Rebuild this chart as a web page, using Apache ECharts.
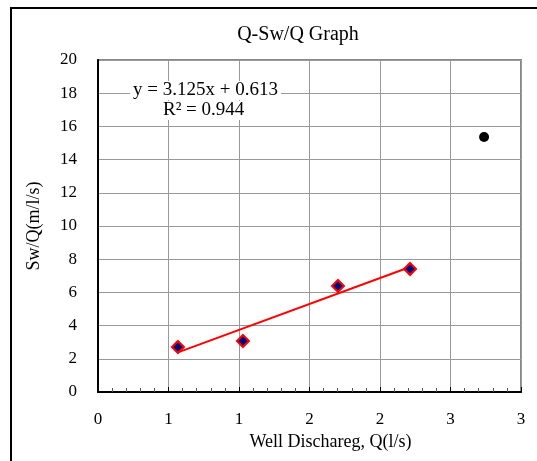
<!DOCTYPE html>
<html>
<head>
<meta charset="utf-8">
<script src="https://cdn.jsdelivr.net/npm/echarts@6/dist/echarts.min.js"></script>
<style>
  html, body { margin: 0; padding: 0; background: #fff; }
  #frame { position: absolute; left: 10px; top: 7px; width: 540px; height: 452px;
           border-left: 2px solid #000; border-top: 2px solid #000; border-bottom: 2px solid #888; }
  #chart { position: absolute; left: 0; top: 0; width: 537px; height: 461px; }
</style>
</head>
<body>
<div id="frame"></div>
<div id="chart"></div>
<script>
// Well test data: discharge Q (l/s) vs. specific drawdown Sw/Q
const dischargeQ = [0.567, 1.028, 1.702, 2.213];
const swOverQ = [2.71, 3.07, 6.39, 7.41];
// Point left out of the fit
const outlierQ = [2.738];
const outlierSw = [15.36];
// Linear fit reported on the chart
const slope = 3.125;
const intercept = 0.613;
const rSquared = 0.944;
// Axis tick labels (rounded to whole numbers)
const xTickLabels = ['0', '1', '1', '2', '2', '3', '3'];
const yTickLabels = ['0', '2', '4', '6', '8', '10', '12', '14', '16', '18', '20'];

const FONT = '"Liberation Serif", "DejaVu Serif", serif';

const fitted = dischargeQ.map((x, i) => [x, swOverQ[i]]);
const outliers = outlierQ.map((x, i) => [x, outlierSw[i]]);
const xMin = Math.min(...dischargeQ), xMax = Math.max(...dischargeQ);
const trend = [[xMin, slope * xMin + intercept], [xMax, slope * xMax + intercept]];

const chart = echarts.init(document.getElementById('chart'), null, { renderer: 'canvas' });
chart.setOption({
  animation: false,
  backgroundColor: 'transparent',
  title: {
    text: 'Q-Sw/Q Graph', left: 293, top: 20, textAlign: 'center',
    textStyle: { fontFamily: FONT, fontSize: 20, fontWeight: 'normal', color: '#000' }
  },
  grid: {
    left: 98, top: 60, right: 16, bottom: 69,
    show: true, borderColor: '#888', borderWidth: 2, backgroundColor: '#fff'
  },
  xAxis: {
    type: 'value', min: 0, max: 3, interval: 0.5,
    name: 'Well Dischareg, Q(l/s)', nameLocation: 'middle', nameGap: 34,
    nameTextStyle: { fontFamily: FONT, fontSize: 18, color: '#000', padding: [0, 0, 0, 42] },
    axisLine: { show: true, onZero: false, lineStyle: { color: '#000', width: 2 } },
    axisTick: { show: true, inside: true, length: 5, lineStyle: { color: '#000' } },
    minorTick: { show: true, splitNumber: 5, length: 4, lineStyle: { color: '#555' } },
    axisLabel: {
      margin: 19, fontFamily: FONT, fontSize: 17, color: '#000',
      formatter: (v) => xTickLabels[Math.round(v / 0.5)]
    },
    splitLine: { show: true, lineStyle: { color: '#999', width: 1 } }
  },
  yAxis: {
    type: 'value', min: 0, max: 20, interval: 2,
    name: 'Sw/Q(m/l/s)', nameLocation: 'middle', nameGap: 55,
    nameTextStyle: { fontFamily: FONT, fontSize: 18, color: '#000' },
    axisLine: { show: true, onZero: false, lineStyle: { color: '#000', width: 2 } },
    axisTick: { show: false },
    axisLabel: {
      margin: 21, fontFamily: FONT, fontSize: 17, color: '#000',
      formatter: (v) => yTickLabels[Math.round(v / 2)]
    },
    splitLine: { show: true, lineStyle: { color: '#999', width: 1 } }
  },
  series: [
    {
      type: 'line', data: trend, showSymbol: false, symbol: 'none',
      lineStyle: { color: '#ff0000', width: 2 }, z: 3
    },
    {
      type: 'scatter', data: fitted, symbol: 'diamond', symbolSize: 12,
      itemStyle: { color: '#000080', borderColor: '#ff0000', borderWidth: 2, opacity: 1 }, z: 4
    },
    {
      type: 'scatter', data: outliers, symbol: 'circle', symbolSize: 10,
      itemStyle: { color: '#000', opacity: 1 }, z: 4
    }
  ],
  graphic: [
    {
      type: 'text', left: 130, top: 81, z: 10,
      style: {
        text: 'y = ' + slope.toFixed(3) + 'x + ' + intercept.toFixed(3),
        font: '19px ' + FONT, fill: '#000', backgroundColor: '#fff', padding: [0, 3]
      }
    },
    {
      type: 'text', left: 160, top: 101, z: 10,
      style: {
        text: 'R² = ' + rSquared.toFixed(3),
        font: '19px ' + FONT, fill: '#000', backgroundColor: '#fff', padding: [0, 3]
      }
    }
  ]
});
</script>
</body>
</html>
